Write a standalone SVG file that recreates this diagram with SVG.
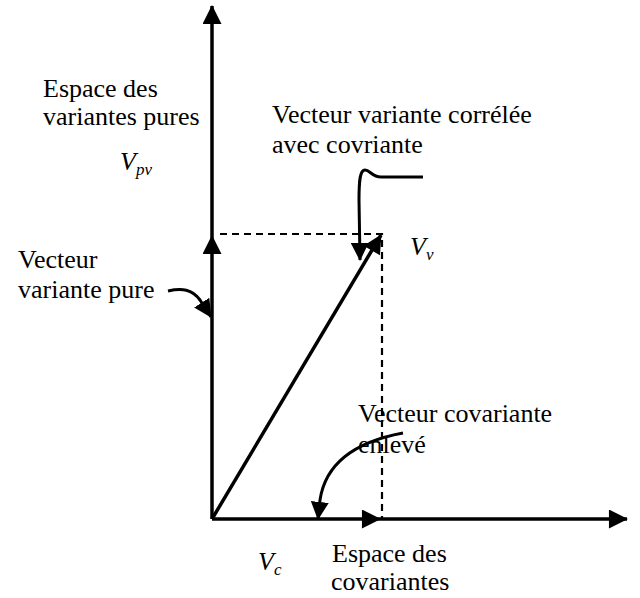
<svg xmlns="http://www.w3.org/2000/svg" width="640" height="598" viewBox="0 0 640 598">
<style>
.ax{stroke:#000;stroke-width:3.5;fill:none}
.dash{stroke:#000;stroke-width:2.2;stroke-dasharray:7,5;fill:none}
.cv{stroke:#000;stroke-width:3;fill:none}
text{font-family:"Liberation Serif","Times New Roman",serif;font-size:26px;fill:#000}
.it{font-style:italic}
.sub{font-size:17px}
</style>
<defs>
<marker id="ah" viewBox="0 0 20 20" refX="19" refY="10" markerWidth="20" markerHeight="19" markerUnits="userSpaceOnUse" orient="auto"><path d="M0,0 L20,10 L0,20 z" fill="#000"/></marker>
<marker id="ahs" viewBox="0 0 20 20" refX="19" refY="10" markerWidth="18" markerHeight="18" markerUnits="userSpaceOnUse" orient="auto"><path d="M0,0 L20,10 L0,20 z" fill="#000"/></marker>
</defs>
<rect width="640" height="598" fill="#fff"/>
<g id="connectors">
<line class="ax" x1="212" y1="519" x2="212" y2="236" marker-end="url(#ah)"/>
<line class="ax" x1="212" y1="236" x2="212" y2="6" marker-end="url(#ah)"/>
<line class="ax" x1="212" y1="519" x2="380" y2="519" marker-end="url(#ah)"/>
<line class="ax" x1="380" y1="519" x2="627" y2="519" marker-end="url(#ah)"/>
<line class="ax" x1="212" y1="519" x2="381" y2="235" marker-end="url(#ah)"/>
<path class="dash" d="M220,234 H382 V519"/>
<path class="cv" d="M423,177 L381,177 C372,177 370,170 365,170 C360,170 359,180 359,200 L360,260" marker-end="url(#ahs)"/>
<path class="cv" d="M168,291 C182,288 192,289 200,300 L211,317" marker-end="url(#ahs)"/>
<path class="cv" d="M403,433 C360,441 326,460 320,500 L318,519" marker-end="url(#ahs)"/>
</g>
<g id="espace-variantes">
<text x="43" y="97">Espace des</text>
<text x="43" y="125">variantes pures</text>
</g>
<g id="vpv"><text class="it" x="120" y="170">V<tspan class="sub" dy="5">pv</tspan></text></g>
<g id="vecteur-correlee">
<text x="272" y="123">Vecteur variante corrélée</text>
<text x="272" y="153">avec covriante</text>
</g>
<g id="vecteur-pure">
<text x="18" y="268">Vecteur</text>
<text x="18" y="298">variante pure</text>
</g>
<g id="vv"><text class="it" x="410" y="255">V<tspan class="sub" dy="5">v</tspan></text></g>
<g id="vecteur-covariante">
<text x="358" y="422">Vecteur covariante</text>
<text x="358" y="453">enlevé</text>
</g>
<g id="vc"><text class="it" x="258" y="570">V<tspan class="sub" dy="5">c</tspan></text></g>
<g id="espace-covariantes">
<text x="332" y="562">Espace des</text>
<text x="331" y="590">covariantes</text>
</g>
</svg>
